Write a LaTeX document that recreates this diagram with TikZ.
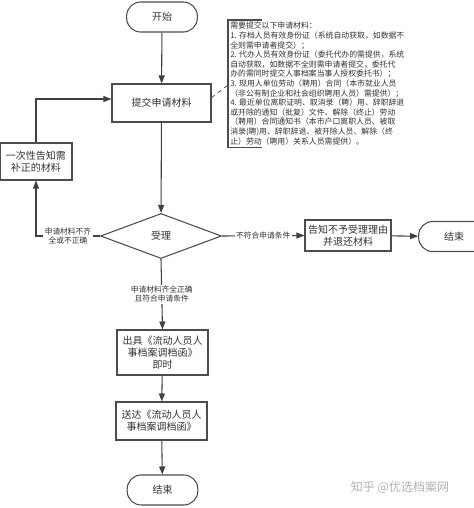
\documentclass[tikz,border=0pt]{standalone}
\usepackage{fontspec}
\newfontfamily\cjk{Noto Sans CJK SC}
\usetikzlibrary{shapes, arrows.meta, positioning, calc}

\begin{document}
\begin{tikzpicture}[
    x=0.75pt, y=-0.75pt,
    font=\cjk, text=black!80,
    terminal/.style={rectangle, rounded corners=10.5pt, draw=black!70, line width=0.8pt, minimum width=53pt, minimum height=22.5pt, font=\cjk\fontsize{7.5}{8.5}\selectfont},
    process/.style={rectangle, draw=black!70, line width=0.8pt, align=center, inner sep=1pt, font=\cjk\fontsize{7.5}{8.8}\selectfont},
    decision/.style={diamond, draw=black!70, line width=0.8pt, inner sep=0pt, minimum width=90.75pt, minimum height=33.75pt, font=\cjk\fontsize{7.5}{8.5}\selectfont},
    cond/.style={fill=white, align=center, inner sep=1pt, font=\cjk\fontsize{5.8}{7}\selectfont},
    note/.style={align=left, inner sep=0pt, font=\cjk\fontsize{5.9}{7.2}\selectfont},
    arrow/.style={draw=black!75, line width=0.8pt, -{Triangle[length=6pt, width=4.5pt]}},
    bracket/.style={draw=black!70, line width=0.9pt},
    link/.style={draw=black!70, line width=0.6pt, dashed}
]
\useasboundingbox (0,0) rectangle (474,508);

% Main column
\node[terminal] (start) at (162,17) {开始};
\node[process, minimum width=74.25pt, minimum height=28.5pt] (submit) at (161.5,103) {提交申请材料};
\node[decision] (accept) at (161,236) {受理};
\node[process, minimum width=68.25pt, minimum height=33.75pt] (issue) at (162.5,352.5) {出具《流动人员人\\事档案调档函》\\即时};
\node[process, minimum width=68.25pt, minimum height=28.5pt] (deliver) at (161.5,421) {送达《流动人员人\\事档案调档函》};
\node[terminal] (finish) at (162.5,490) {结束};

% Side branches
\node[process, minimum width=54pt, minimum height=27.75pt] (notify) at (36,161.5) {一次性告知需\\补正的材料};
\node[process, minimum width=64.5pt, minimum height=23.25pt] (reject) at (348,235.5) {告知不予受理理由\\并退还材料};
\node[terminal] (finishright) at (454,236.5) {结束};

% Annotation
\node[note, anchor=north west] (materials) at (230,22) {需要提交以下申请材料：\\
1. 存档人员有效身份证（系统自动获取，如数据不\\
全则需申请者提交）；\\
2. 代办人员有效身份证（委托代办的需提供，系统\\
自动获取，如数据不全则需申请者提交，委托代\\
办的需同时提交人事档案当事人授权委托书）；\\
3. 现用人单位劳动（聘用）合同（本市就业人员\\
（非公有制企业和社会组织聘用人员）需提供）；\\
4. 最近单位离职证明、取消录（聘）用、辞职辞退\\
或开除的通知（批复）文件、解除（终止）劳动\\
（聘用）合同通知书（本市户口离职人员、被取\\
消录(聘)用、辞职辞退、被开除人员、解除（终\\
止）劳动（聘用）关系人员需提供）。};
\draw[bracket] ([shift={(32,-2)}]materials.north west) -- ([shift={(-2,-2)}]materials.north west)
    -- ([shift={(-2,2)}]materials.south west) -- ([shift={(32,2)}]materials.south west);
\coordinate (hook) at ([shift={(-2,63)}]materials.north west);

% Connections
\draw[arrow] (start) -- (submit);
\draw[arrow] (submit) -- (accept);
\draw[arrow] (accept.west) -- node[cond] {申请材料不齐\\全或不正确} (accept.west -| notify.south) -- (notify.south);
\draw[arrow] (notify.north) |- ([yshift=3pt]submit.west);
\draw[arrow] (accept.east) -- node[cond] {不符合申请条件} (reject.west);
\draw[arrow] (reject) -- (finishright);
\draw[arrow] (accept.south) -- node[cond] {申请材料齐全正确\\且符合申请条件} (issue.north);
\draw[arrow] (issue) -- (deliver);
\draw[arrow] (deliver) -- (finish);
\draw[link] ([yshift=4pt]submit.east) -- (hook);

% Watermark
\node[text=black!30, font=\cjk\fontsize{9}{10}\selectfont] (mark) at (400,487) {知乎 @优选档案网};

\end{tikzpicture}
\end{document}
